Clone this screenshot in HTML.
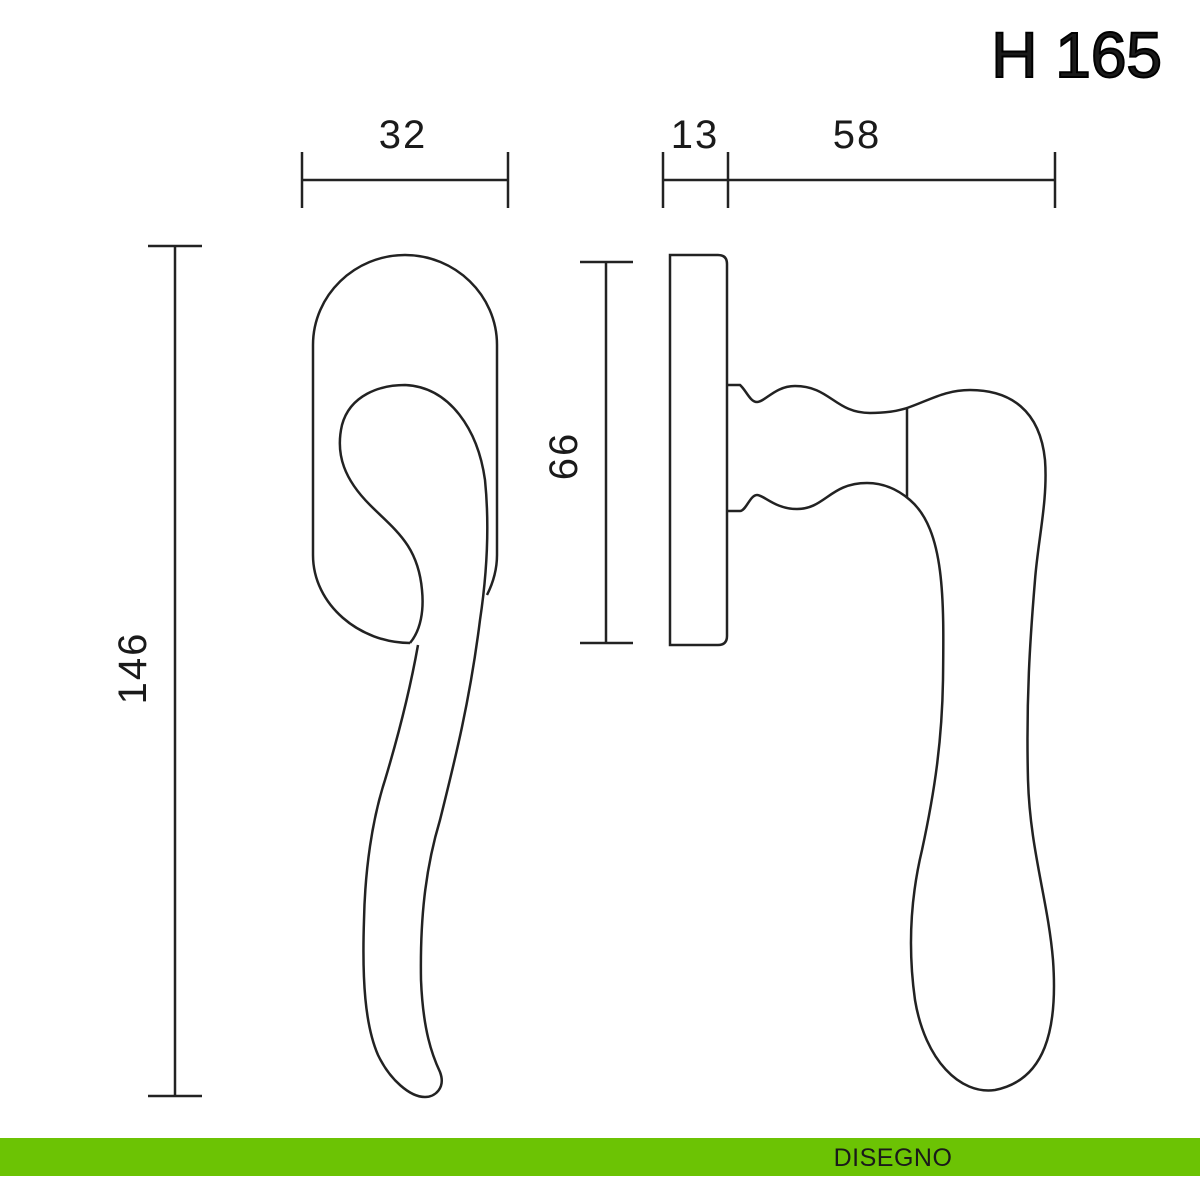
<!DOCTYPE html>
<html><head><meta charset="utf-8"><style>
html,body{margin:0;padding:0;background:#fff;}
svg{display:block;}
text{font-family:"Liberation Sans",sans-serif;fill:#1a1a1a;}
</style></head><body>
<svg width="1200" height="1200" viewBox="0 0 1200 1200" xmlns="http://www.w3.org/2000/svg">
<rect width="1200" height="1200" fill="#fff"/>
<text x="1162" y="77" font-size="64" text-anchor="end" fill="#000" stroke="#000" stroke-width="2">H 165</text>

<g stroke="#222" stroke-width="2.5" fill="none">
<line x1="302" y1="180" x2="508" y2="180"/>
<line x1="302" y1="152" x2="302" y2="208"/>
<line x1="508" y1="152" x2="508" y2="208"/>
<line x1="663" y1="180" x2="1055" y2="180"/>
<line x1="663" y1="152" x2="663" y2="208"/>
<line x1="728" y1="152" x2="728" y2="208"/>
<line x1="1055" y1="152" x2="1055" y2="208"/>
<line x1="175" y1="246" x2="175" y2="1096"/>
<line x1="148" y1="246" x2="202" y2="246"/>
<line x1="148" y1="1096" x2="202" y2="1096"/>
<line x1="606" y1="262" x2="606" y2="643"/>
<line x1="580" y1="262" x2="633" y2="262"/>
<line x1="580" y1="643" x2="633" y2="643"/>

<path d="M410,643 C360,643 313,605 313,555 L313,345 C313,295 355,255 405,255 C455,255 497,295 497,345 L497,555 C497,572 492,585 487,595"/>
<path d="M410,643 C421,630 424,610 422,590 C418,545 395,530 370,505 C345,480 335,455 342,425 C350,395 380,385 405,385 C450,387 478,430 485,480 C490,530 486,580 480,620 C470,700 455,760 440,820 C425,870 420,920 421,980 C423,1030 432,1055 440,1072 C446,1088 435,1097 425,1097 C410,1097 390,1080 378,1055 C365,1025 362,980 364,920 C365,870 372,820 385,780 C400,730 410,690 418,645"/>

<path d="M670,645 L670,255 L718,255 Q727,255 727,264 L727,636 Q727,645 718,645 Z"/>
<path d="M727,385 L740,385 C746,390 750,402 757,402 C765,402 775,386 795,386 C830,386 835,413 870,413 C890,413 900,410 907,408 C930,400 945,390 970,390 C1010,390 1040,410 1045,460 C1048,500 1038,540 1035,580 C1030,640 1026,700 1028,780 C1030,850 1048,900 1053,960 C1058,1030 1045,1080 995,1090 C960,1095 925,1060 915,1000 C908,950 910,900 922,850 C935,790 942,740 943,680 C944,600 945,530 910,500 C895,487 880,483 867,483 C830,483 825,509 797,509 C775,509 764,495 757,495 C750,495 746,511 740,511 L727,511"/>
<line x1="907" y1="408" x2="907" y2="497"/>
</g>

<g font-size="40" letter-spacing="2">
<text x="403" y="148" text-anchor="middle">32</text>
<text x="695" y="148" text-anchor="middle">13</text>
<text x="857" y="148" text-anchor="middle">58</text>
<text transform="translate(146,668) rotate(-90)" text-anchor="middle">146</text>
<text transform="translate(577,456) rotate(-90)" text-anchor="middle">66</text>
</g>

<rect x="0" y="1138" width="1200" height="38" fill="#6cc304"/>
<text x="893" y="1166" font-size="25" text-anchor="middle" fill="#111" letter-spacing="0.5">DISEGNO</text>
</svg>
</body></html>
